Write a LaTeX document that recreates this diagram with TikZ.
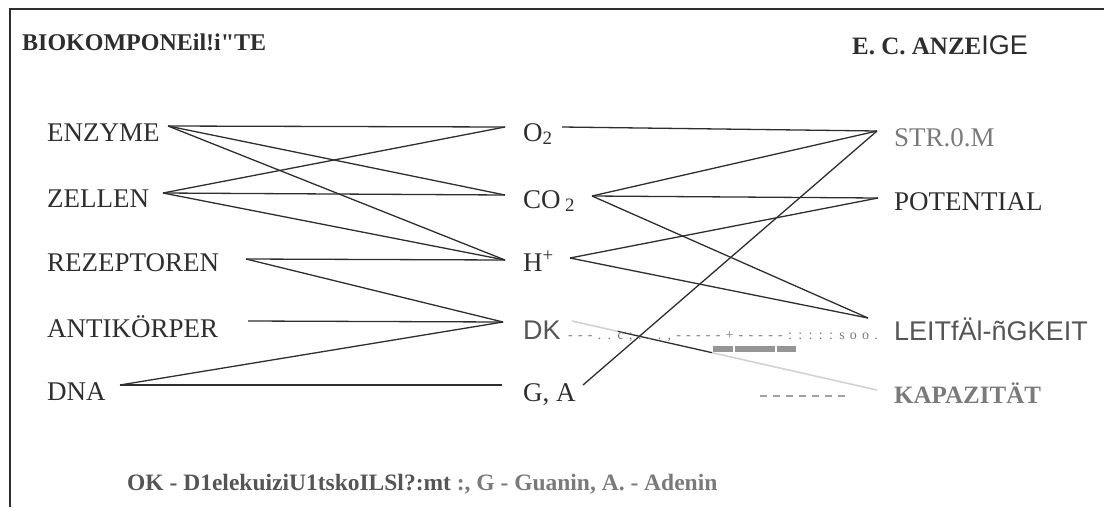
\documentclass[tikz,border=0pt]{standalone}
\usepackage{fontspec}
\setmainfont{Liberation Serif}
\setsansfont{Liberation Sans}
\newfontfamily\rawserif{Liberation Serif}
\usepackage{xcolor}
\usetikzlibrary{calc}

\definecolor{ink}{HTML}{2E2E2E}
\definecolor{inkmid}{HTML}{555555}
\definecolor{inkgray}{HTML}{7A7A7A}
\definecolor{inklight}{HTML}{D2D2D2}

\begin{document}
\begin{tikzpicture}[x=1pt, y=-1pt,
		lbl/.style={anchor=base west, inner sep=0pt, text=ink, font=\fontsize{27}{29}\selectfont},
		link/.style={line width=1.3pt, draw=ink},
	]
	\def\xL{47}
	\def\xM{523}
	\def\xR{894}

	\useasboundingbox (0,0) rectangle (1104,507);
	\draw[line width=2pt, ink] (10,507) -- (10,9) -- (1104,9);

	\begin{scope}
		\node[lbl, font=\fontsize{24}{26}\selectfont\rawserif\bfseries] (bio) at (22,50) {BIOKOMPONEil!i"TE};
		\node[lbl] (anz) at (852,54) {{\fontsize{25}{27}\selectfont\bfseries E. C. ANZE}{\fontsize{27}{29}\selectfont\sffamily IGE}};
	\end{scope}

	\begin{scope}
		\node[lbl] (enz) at (\xL,141) {ENZYME};
		\node[lbl] (zel) at (\xL,207) {ZELLEN};
		\node[lbl] (rez) at (\xL,271) {REZEPTOREN};
		\node[lbl] (ant) at (\xL,337) {ANTIKÖRPER};
		\node[lbl] (dna) at (\xL,400) {DNA};
	\end{scope}

	\begin{scope}
		\node[lbl] (o2) at (\xM,141) {O\textsubscript{2}};
		\node[lbl] (co2) at (\xM,208) {CO\,\textsubscript{2}};
		\node[lbl] (h) at (\xM,271) {H\textsuperscript{+}};
		\node[lbl, text=inkmid, font=\fontsize{27}{29}\selectfont\sffamily] (dk) at (\xM,339) {DK};
		\node[lbl] (ga) at (\xM,401) {G, A};
	\end{scope}

	\begin{scope}
		\node[lbl, text=inkgray] (strom) at (\xR,146) {STR.0.M};
		\node[lbl] (pot) at (\xR,210) {POTENTIAL};
		\node[lbl, text=inkmid, font=\fontsize{27}{29}\selectfont\sffamily] (leit) at (\xR,340) {LEITfÄl-ñGKEIT};
		\node[lbl, text=inkgray, font=\fontsize{25}{27}\selectfont\bfseries] (kap) at (\xR,403) {KAPAZITÄT};
	\end{scope}

	\node[lbl, font=\fontsize{23.5}{25}\selectfont\bfseries] (legend) at (127,490)
		{{\color{inkmid}OK - D1elekuiziU1tskoILSl?:mt} {\color{inkgray}:, G - Guanin, A. - Adenin}};

	\coordinate (enzR) at (168,126);
	\coordinate (zelR) at (163,193);
	\coordinate (rezR) at (246,259);
	\coordinate (antR) at (248,321);
	\coordinate (dnaR) at (120,385);
	\coordinate (o2L) at (505,127);
	\coordinate (co2L) at (505,195);
	\coordinate (hL) at (505,260);
	\coordinate (dkL) at (503,322);
	\coordinate (gaL) at (502,385);
	\coordinate (o2R) at (562,127);
	\coordinate (co2R) at (592,196);
	\coordinate (hR) at (570,258);
	\coordinate (dkR) at (572,321);
	\coordinate (gaR) at (583,385);
	\coordinate (stromL) at (877,131);
	\coordinate (potL) at (878,198);
	\coordinate (leitL) at (868,318);
	\coordinate (kapL) at (877,390);
	\coordinate (kapA) at ($(dkR)!0.15!(kapL)$);
	\coordinate (kapM) at ($(dkR)!0.46!(kapL)$);

	\foreach \a/\b in {enzR/o2L, enzR/co2L, enzR/hL, zelR/o2L, zelR/co2L, zelR/hL,
		rezR/hL, rezR/dkL, antR/dkL, dnaR/dkL, dnaR/gaL,
		o2R/stromL, co2R/stromL, co2R/potL, co2R/leitL, hR/potL, hR/leitL, gaR/stromL}
	{
		\draw[link] (\a) -- (\b);
	}

	\draw[line width=1.6pt, inklight] (dkR) -- (kapA);
	\draw[link] (kapA) -- (kapM);
	\draw[line width=1.6pt, inklight] (kapM) -- (kapL);

	\node[anchor=base west, inner sep=0pt, text=inkgray, font=\fontsize{14}{16}\selectfont] (dots) at (568,339)
		{\spaceskip=5.2pt - - - . . c ; . . . , - - - - - + - - - - - : : : : : s o o .};

	\begin{scope}[fill=inkgray!80]
		\fill (713,346) rectangle (733,352);
		\fill (735,346) rectangle (775,352);
		\fill (777,346) rectangle (796,352);
	\end{scope}

	\coordinate (kapDashA) at (760,396);
	\coordinate (kapDashB) at (849,396);
	\draw[line width=1.4pt, inkgray!70, dash pattern=on 7pt off 6pt] (kapDashA) -- (kapDashB);
\end{tikzpicture}
\end{document}
